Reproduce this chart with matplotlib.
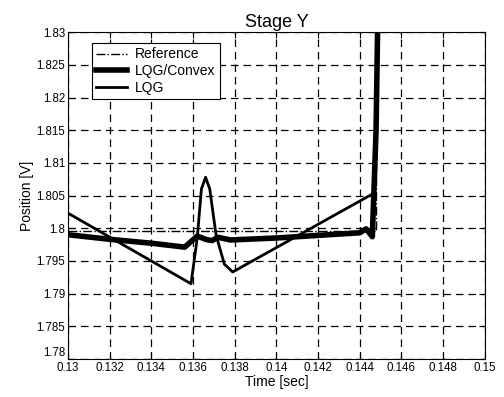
import matplotlib
matplotlib.use("Agg")
import matplotlib.pyplot as plt

plt.rcParams["font.family"] = ["Liberation Sans", "DejaVu Sans"]

# Reference step
ref_t = [0.13, 0.1448, 0.1448, 0.151]
ref_y = [1.7995, 1.7995, 1.84, 1.84]

# LQG/Convex response
cvx_t = [0.13, 0.132, 0.134, 0.1356, 0.1362, 0.1366, 0.1369, 0.1372, 0.1378,
         0.140, 0.142, 0.1440, 0.1443, 0.1446, 0.14478, 0.1449]
cvx_y = [1.7990, 1.7983, 1.7977, 1.7971, 1.7988, 1.7983, 1.7981, 1.7986, 1.7982,
         1.7985, 1.7989, 1.7993, 1.7999, 1.7987, 1.8150, 1.84]

# LQG response
lqg_t = [0.13, 0.1359, 0.1362, 0.1364, 0.1366, 0.1368, 0.1371, 0.1375, 0.1379,
         0.1447, 0.1448, 0.14485]
lqg_y = [1.8023, 1.7915, 1.7985, 1.8060, 1.8078, 1.8060, 1.7990, 1.7945, 1.7933,
         1.8054, 1.8200, 1.84]

xticks = [0.13, 0.132, 0.134, 0.136, 0.138, 0.14, 0.142, 0.144, 0.146, 0.148, 0.15]
xlabels = ["0.13", "0.132", "0.134", "0.136", "0.138", "0.14", "0.142", "0.144",
           "0.146", "0.148", "0.15"]
yticks = [1.78, 1.785, 1.79, 1.795, 1.8, 1.805, 1.81, 1.815, 1.82, 1.825, 1.83]
ylabels = ["1.78", "1.785", "1.79", "1.795", "1.8", "1.805", "1.81", "1.815",
           "1.82", "1.825", "1.83"]

fig = plt.figure(figsize=(5.04, 3.97), dpi=100)
ax = fig.add_axes([0.135, 0.096, 0.827, 0.823])

ax.plot(ref_t, ref_y, color="black", lw=1.0, ls="-.", label="Reference")
ax.plot(cvx_t, cvx_y, color="black", lw=4.0, label="LQG/Convex")
ax.plot(lqg_t, lqg_y, color="black", lw=2.0, label="LQG")

ax.set_xlim(0.13, 0.15)
ax.set_ylim(1.78, 1.83)
ax.set_xticks(xticks)
ax.set_xticklabels(xlabels)
ax.set_yticks(yticks)
ax.set_yticklabels(ylabels)
ax.tick_params(direction="in", length=4, labelsize=8.3, pad=2,
               top=True, right=True)
# keep the corner label clear of the x tick labels
ax.get_yticklabels()[0].set_va("bottom")
ax.grid(True, color="black", ls=(0, (6, 4)), lw=0.9)
for s in ax.spines.values():
    s.set_linewidth(0.8)

ax.set_title("Stage Y", fontsize=13, pad=4)
ax.set_xlabel("Time [sec]", fontsize=10, labelpad=1)
ax.set_ylabel("Position [V]", fontsize=10, labelpad=2)

leg = ax.legend(loc="upper left", bbox_to_anchor=(0.057, 0.966), fontsize=10,
                frameon=True, fancybox=False, framealpha=1, edgecolor="black",
                handlelength=2.2, borderpad=0.3, labelspacing=0.2,
                handletextpad=0.6, borderaxespad=0)
leg.get_frame().set_linewidth(0.8)

fig.savefig("out.png", dpi=100)
